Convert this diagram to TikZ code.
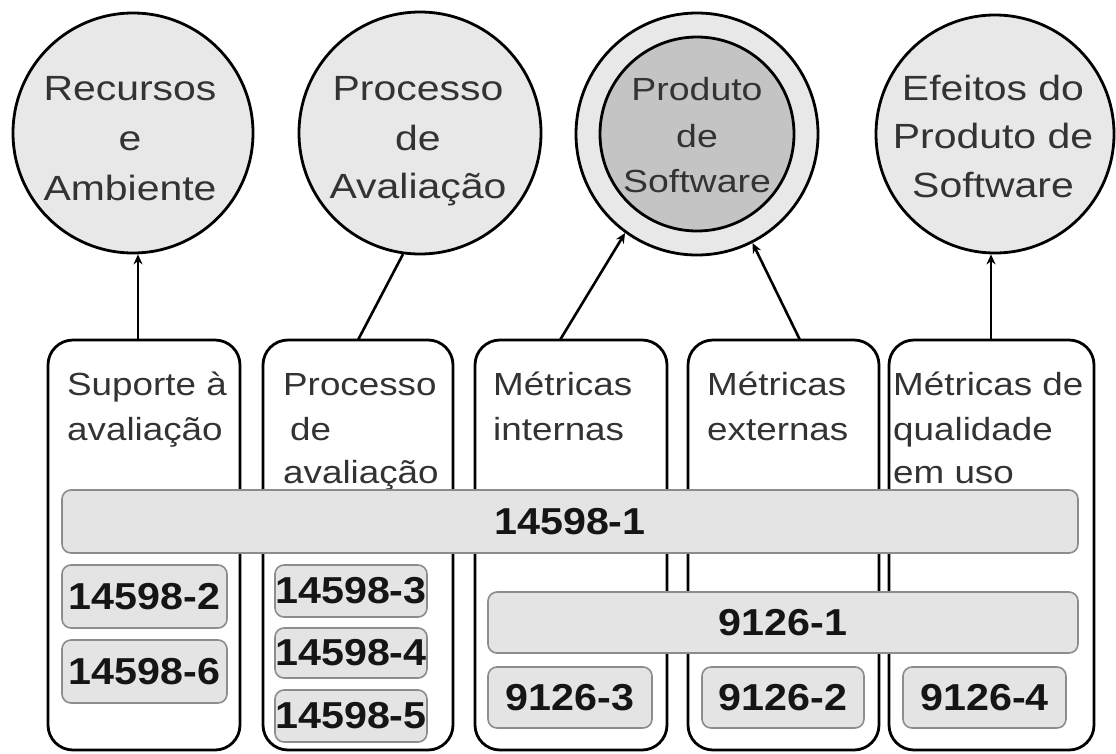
\documentclass[tikz,border=0pt]{standalone}
\usepackage{fontspec}
\setmainfont{Liberation Sans}
\newfontfamily\circfont[FakeStretch=1.17]{Liberation Sans}
\newfontfamily\colfont[FakeStretch=1.15]{Liberation Sans}
\newfontfamily\numfont[FakeStretch=1.1]{Liberation Sans}
\usetikzlibrary{arrows.meta}
\definecolor{txt}{HTML}{333333}
\definecolor{numtxt}{HTML}{151515}
\definecolor{lightfill}{HTML}{E8E8E8}
\definecolor{darkfill}{HTML}{C4C4C4}
\definecolor{barfill}{HTML}{E4E4E4}
\definecolor{barline}{HTML}{8C8C8C}
\tikzset{
  circ/.style={circle, draw=black, line width=2.8pt, fill=lightfill, inner sep=0pt},
  circin/.style={circle, draw=black, line width=2.8pt, fill=darkfill, inner sep=0pt},
  ctext/.style={anchor=base, inner sep=0pt, text=txt, font=\circfont\fontsize{35}{35}\selectfont},
  ctextsm/.style={anchor=base, inner sep=0pt, text=txt, font=\circfont\fontsize{32}{32}\selectfont},
  colbox/.style={rectangle, rounded corners=25pt, draw=black, line width=2.8pt, fill=white, inner sep=0pt, minimum height=410pt},
  coltext/.style={anchor=base west, inner sep=0pt, text=txt, font=\colfont\fontsize{32}{32}\selectfont},
  bar/.style={rectangle, rounded corners=9pt, draw=barline, line width=1.6pt, fill=barfill, inner sep=0pt,
    text=numtxt, font=\numfont\bfseries\fontsize{37.5}{37.5}\selectfont},
  arr/.style={line width=2.6pt, -{Stealth[length=10pt,width=9pt]}},
  link/.style={line width=2.6pt}
}
\begin{document}
\begin{tikzpicture}[x=1pt,y=-1pt]
\useasboundingbox (0,0) rectangle (1116,753);

% upper circles
\node[circ, minimum size=240pt] (c1) at (133,133) {};
\node[circ, minimum size=242pt] (c2) at (420,133) {};
\node[circ, minimum size=242pt] (c3) at (697,134) {};
\node[circin, minimum size=194pt] (c3in) at (697,134) {};
\node[circ, minimum size=238pt] (c4) at (995,134) {};

\node[ctext] (c1a) at (130,100) {Recursos};
\node[ctext] (c1b) at (130,150) {e};
\node[ctext] (c1c) at (130,200) {Ambiente};

\node[ctext] (c2a) at (418,100) {Processo};
\node[ctext] (c2b) at (418,150) {de};
\node[ctext] (c2c) at (418,198) {Avaliação};

\node[ctextsm] (c3a) at (697,100) {Produto};
\node[ctextsm] (c3b) at (697,147) {de};
\node[ctextsm] (c3c) at (697,192) {Software};

\node[ctext] (c4a) at (993,100) {Efeitos do};
\node[ctext] (c4b) at (993,148) {Produto de};
\node[ctext] (c4c) at (993,197) {Software};

% columns
\node[colbox, minimum width=192pt] (col1) at (144,545) {};
\node[colbox, minimum width=190pt] (col2) at (358,545) {};
\node[colbox, minimum width=192pt] (col3) at (571,545) {};
\node[colbox, minimum width=191pt] (col4) at (783.5,545) {};
\node[colbox, minimum width=205pt] (col5) at (991.5,545) {};

\node[coltext] (t1a) at (67,395) {Suporte à};
\node[coltext] (t1b) at (67,440) {avaliação};

\node[coltext] (t2a) at (283,395) {Processo};
\node[coltext] (t2b) at (290,440) {de};
\node[coltext] (t2c) at (283,483) {avaliação};

\node[coltext] (t3a) at (493,395) {Métricas};
\node[coltext] (t3b) at (493,440) {internas};

\node[coltext] (t4a) at (707,395) {Métricas};
\node[coltext] (t4b) at (707,440) {externas};

\node[coltext] (t5a) at (893,395) {Métricas de};
\node[coltext] (t5b) at (893,440) {qualidade};
\node[coltext] (t5c) at (893,483) {em uso};

% standard bars
\node[bar, minimum width=1016pt, minimum height=63pt] (s1) at (570,521.5) {14598-1};
\node[bar, minimum width=590pt, minimum height=61pt] (s91) at (783,622.5) {9126-1};
\node[bar, minimum width=165pt, minimum height=63pt] (s2) at (144.5,596.5) {14598-2};
\node[bar, minimum width=165pt, minimum height=63pt] (s6) at (144.5,671.5) {14598-6};
\node[bar, minimum width=152pt, minimum height=52pt] (s3) at (351,591) {14598-3};
\node[bar, minimum width=152pt, minimum height=50pt] (s4) at (351,653) {14598-4};
\node[bar, minimum width=152pt, minimum height=52pt] (s5) at (351,716) {14598-5};
\node[bar, minimum width=164pt, minimum height=61pt] (s93) at (570,697.5) {9126-3};
\node[bar, minimum width=162pt, minimum height=61pt] (s92) at (783,697.5) {9126-2};
\node[bar, minimum width=163pt, minimum height=61pt] (s94) at (984.5,697.5) {9126-4};

% connectors
\coordinate (a1s) at (138,340);
\coordinate (a2s) at (358,340);
\coordinate (a3s) at (560,340);
\coordinate (a4s) at (800,340);
\coordinate (a5s) at (991,340);
\draw[arr] (a1s) -- (c1.south -| a1s);
\draw[link] (a2s) -- (c2.262);
\draw[arr] (a3s) -- (c3.234);
\draw[arr] (a4s) -- (c3.297);
\draw[arr] (a5s) -- (c4.south -| a5s);
\end{tikzpicture}
\end{document}
